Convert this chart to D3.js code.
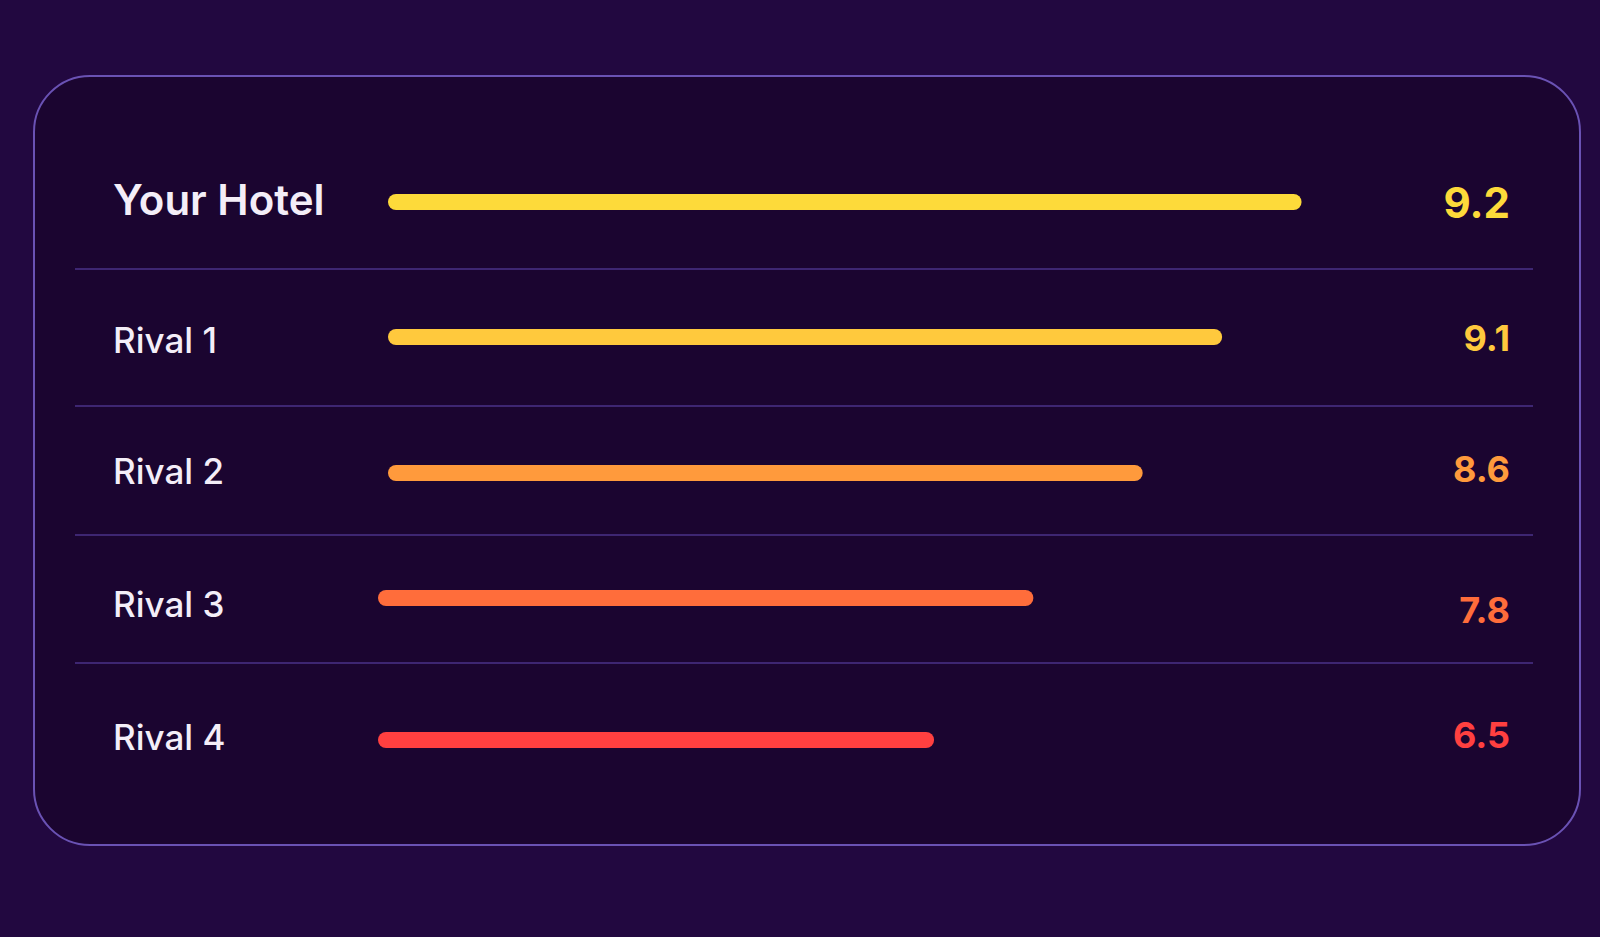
<!DOCTYPE html>
<html>
<head>
<meta charset="utf-8">
<script src="https://cdn.jsdelivr.net/npm/d3@7"></script>
<style>
  html, body { margin: 0; padding: 0; background: #220840; overflow: hidden; }
  svg { display: block; }
</style>
</head>
<body>
<svg id="chart" width="1600" height="937"></svg>
<script>
// ---- data ----
const hotels = ["Your Hotel", "Rival 1", "Rival 2", "Rival 3", "Rival 4"];
const scores = [9.2, 9.1, 8.6, 7.8, 6.5];          // printed score
const barPct = [92, 84, 76, 66, 56];               // bar fill (percent)
const colors = ["#FDDA3A", "#FFC93D", "#FF9A3C", "#FF6D3B", "#FF4040"];

// ---- layout ----
const W = 1600, H = 937;
const card = { x: 34, y: 76, w: 1546, h: 769, r: 56 };
const labelX = 113, valueX = 1510;
const barStart = [388, 388, 388, 378, 378];
const labelDy = [-1, 5.5, 2, 0.5, -1];
const barDy = [2, 2.5, 4, -5.5, 2];
const valueDy = [2.5, 3.5, 0, 6.5, -3];
const sepY = [269, 406, 535, 663];

const svg = d3.select("#chart");
svg.append("rect").attr("width", W).attr("height", H).attr("fill", "#220840");

svg.append("rect")
  .attr("x", card.x).attr("y", card.y).attr("width", card.w).attr("height", card.h)
  .attr("rx", card.r).attr("ry", card.r)
  .attr("fill", "#1b0530").attr("stroke", "#6a52b4").attr("stroke-width", 2);

const y = d3.scalePoint().domain(hotels).range([200, 738]);
const x = d3.scaleLinear().domain([0, 100]).range([0, 993]);

// separators
svg.selectAll("line.sep").data(sepY).join("line")
  .attr("class", "sep")
  .attr("x1", 75).attr("x2", 1533)
  .attr("y1", d => d).attr("y2", d => d)
  .attr("stroke", "#3e2672").attr("stroke-width", 2);

const rows = hotels.map((h, i) => ({ h, i, score: scores[i], pct: barPct[i], color: colors[i] }));

// labels
svg.selectAll("text.label").data(rows).join("text")
  .attr("class", "label")
  .attr("x", labelX)
  .attr("y", d => y(d.h) + labelDy[d.i])
  .attr("dominant-baseline", "central")
  .attr("fill", "#F4EEF8")
  .attr("font-family", "Inter, 'Noto Sans', sans-serif")
  .attr("font-size", d => d.i === 0 ? 42 : 35)
  .attr("font-weight", d => d.i === 0 ? 600 : 500)
  .text(d => d.h);

// bars
const barH = 16;
svg.selectAll("rect.bar").data(rows).join("rect")
  .attr("class", "bar")
  .attr("x", d => barStart[d.i])
  .attr("y", d => y(d.h) + barDy[d.i] - barH / 2)
  .attr("width", d => x(d.pct))
  .attr("height", barH)
  .attr("rx", barH / 2).attr("ry", barH / 2)
  .attr("fill", d => d.color);

// values
svg.selectAll("text.value").data(rows).join("text")
  .attr("class", "value")
  .attr("x", valueX)
  .attr("y", d => y(d.h) + valueDy[d.i])
  .attr("dominant-baseline", "central")
  .attr("text-anchor", "end")
  .attr("fill", d => d.color)
  .attr("font-family", "Inter, 'Noto Sans', sans-serif")
  .attr("font-size", d => d.i === 0 ? 42 : 36)
  .attr("font-weight", 700)
  .text(d => d3.format(".1f")(d.score));
</script>
</body>
</html>
